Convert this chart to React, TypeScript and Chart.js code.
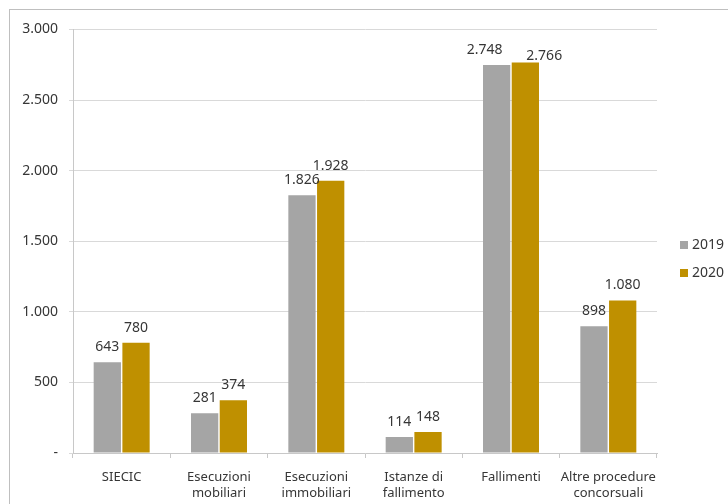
import React, { useEffect, useRef } from "react";
import { Chart, registerables } from "chart.js";

Chart.register(...registerables);

const categories: string[][] = [
  ["SIECIC"],
  ["Esecuzioni", "mobiliari"],
  ["Esecuzioni", "immobiliari"],
  ["Istanze di", "fallimento"],
  ["Fallimenti"],
  ["Altre procedure", "concorsuali"],
];
const values2019 = [643, 281, 1826, 114, 2748, 898];
const values2020 = [780, 374, 1928, 148, 2766, 1080];
const seriesLabels = ["2019", "2020"];
const seriesColors = ["#A5A5A5", "#BF9000"];
const yMin = 0;
const yMax = 3000;
const yStep = 500;

const FONT = "'Noto Sans', 'DejaVu Sans', sans-serif";
const TEXT = "#363636";

function fmt(v: number): string {
  if (v === 0) return "-";
  return String(Math.round(v)).replace(/\B(?=(\d{3})+(?!\d))/g, ".");
}

const dataLabelPlugin = {
  id: "dataLabels",
  afterDatasetsDraw(chart: any) {
    const ctx = chart.ctx;
    ctx.save();
    ctx.font = `14px ${FONT}`;
    ctx.fillStyle = TEXT;
    ctx.textBaseline = "middle";
    ctx.textAlign = "left";
    const n = chart.data.labels.length;
    for (let j = 0; j < n; j++) {
      const boxes: { x: number; y: number; w: number }[] = [];
      chart.data.datasets.forEach((ds: any, i: number) => {
        const bar: any = chart.getDatasetMeta(i).data[j];
        const text = fmt(ds.data[j]);
        const w = ctx.measureText(text).width;
        let x = bar.x - w / 2;
        let y = bar.y - 15;
        const prev = boxes[boxes.length - 1];
        if (prev && x < prev.x + prev.w + 2 && Math.abs(y - prev.y) < 14) {
          // avoid overlap: move previous label left, this one right and down
          prev.x = bar.x - (bar.x - prev.x - prev.w) - prev.w - 12;
          x = bar.x + 1;
          y = y + 9;
        }
        boxes.push({ x, y, w });
        (boxes[boxes.length - 1] as any).text = text;
      });
      boxes.forEach((b: any) => ctx.fillText(b.text, b.x, b.y));
    }
    ctx.restore();
  },
};

const legendPlugin = {
  id: "sideLegend",
  afterDraw(chart: any) {
    const ctx = chart.ctx;
    const x = chart.chartArea.right + 23;
    const cy = chart.height / 2 + 2;
    ctx.save();
    ctx.font = `14px ${FONT}`;
    ctx.textBaseline = "middle";
    ctx.textAlign = "left";
    chart.data.datasets.forEach((ds: any, i: number) => {
      const y = cy + (i - 0.5) * 28;
      ctx.fillStyle = ds.backgroundColor;
      ctx.fillRect(x, y - 4, 8, 8);
      ctx.fillStyle = TEXT;
      ctx.fillText(ds.label, x + 12, y);
    });
    ctx.restore();
  },
};

export default function App() {
  const ref = useRef<HTMLCanvasElement>(null);
  useEffect(() => {
    if (!ref.current) return;
    const chart = new Chart(ref.current, {
      type: "bar",
      data: {
        labels: categories,
        datasets: [
          { label: seriesLabels[0], data: values2019, backgroundColor: seriesColors[0] },
          { label: seriesLabels[1], data: values2020, backgroundColor: seriesColors[1] },
        ],
      },
      options: {
        animation: false,
        responsive: false,
        devicePixelRatio: 1,
        layout: { padding: { top: 15, right: 71, left: 0, bottom: 0 } },
        datasets: { bar: { barPercentage: 0.95, categoryPercentage: 0.59 } } as any,
        plugins: { legend: { display: false }, tooltip: { enabled: false } },
        scales: {
          x: {
            afterFit: (s: any) => { s.height = 51; },
            grid: {
              display: true,
              drawOnChartArea: false,
              drawTicks: true,
              tickLength: 5,
              color: "#C8C8C8",
              offset: true,
            },
            border: { display: true, color: "#C8C8C8" },
            ticks: {
              color: TEXT,
              font: { family: FONT, size: 13, lineHeight: 1.23 },
              padding: 11,
              maxRotation: 0,
              autoSkip: false,
            },
          },
          y: {
            min: yMin,
            max: yMax,
            afterFit: (s: any) => { s.width = 63; },
            grid: { color: "#D9D9D9", tickLength: 4, drawTicks: true },
            border: { display: true, color: "#C8C8C8" },
            ticks: {
              stepSize: yStep,
              color: TEXT,
              font: { family: FONT, size: 14 },
              padding: 11,
              callback: (v: any) => fmt(Number(v)),
            },
          },
        },
      },
      plugins: [dataLabelPlugin, legendPlugin],
    });
    return () => chart.destroy();
  }, []);
  return (
    <div
      style={{
        position: "fixed",
        left: 9,
        top: 9,
        width: 719,
        height: 495,
        borderTop: "1px solid #BFBFBF",
        borderLeft: "1px solid #BFBFBF",
        background: "#fff",
      }}
    >
      <canvas ref={ref} width={718} height={494} style={{ display: "block", width: 718, height: 494 }} />
    </div>
  );
}
